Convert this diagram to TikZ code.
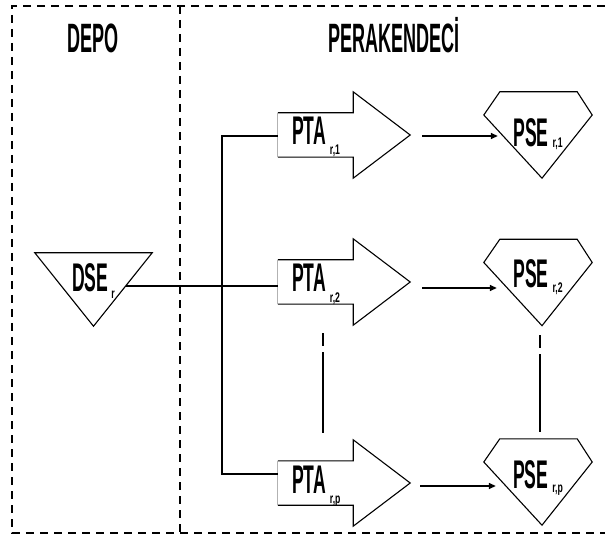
\documentclass[tikz,border=0pt]{standalone}
\usepackage{fontspec}
\usetikzlibrary{arrows.meta}
\newfontfamily\condfont[FakeStretch=0.44]{Liberation Sans}
\newfontfamily\subfont[FakeStretch=0.62]{Liberation Sans}
\newcommand\bigtxt{\condfont\bfseries\fontsize{40}{44}\selectfont}
\newcommand\titletxt{\condfont\bfseries\fontsize{41}{44}\selectfont}
\newcommand\subtxt{\subfont\bfseries\fontsize{14}{15}\selectfont}
% label of a transfer arrow: PTA with a lowered index
\newcommand\ptalabel[1]{\makebox[75pt][l]{\hspace{14pt}\bigtxt PTA\hspace{4pt}\raisebox{-10pt}{\subtxt #1}}}
\newcommand\pselabel[2]{{\bigtxt PSE}\hspace{4pt}\raisebox{#2}{\subtxt #1}}

\begin{document}
\begin{tikzpicture}[x=1pt,y=-1pt,
  frame/.style={line width=1.6pt, dash pattern=on 8pt off 6pt},
  outline/.style={line width=1.1pt},
  conn/.style={line width=1.5pt},
  flow/.style={line width=1.5pt, -{Triangle[length=7pt,width=6pt]}},
  gapline/.style={line width=1.5pt, dash pattern=on 13pt off 6pt on 300pt},
  ptabox/.style={rectangle, inner sep=0pt, minimum width=75pt, minimum height=44pt,
    text height=27pt, text depth=7pt},
  gem/.style={rectangle, inner sep=0pt, minimum width=108pt, minimum height=86pt},
  title/.style={inner sep=0pt, anchor=base, font=\titletxt}
]
\useasboundingbox (0,0) rectangle (605,537);

% dashed frame and divider
\draw[frame] (605,6) -- (12,6) -- (12,533) -- (605,533);
\draw[frame] (180,6) -- (180,533);

% headings
\node[title] (depo) at (93,53) {DEPO};
\node[title] (perakendeci) at (394,53) {PERAKENDECİ};

% warehouse stock point
\node[rectangle, inner sep=0pt, minimum width=117pt, minimum height=73pt,
      text height=28pt, text depth=23pt] (dse) at (93.5,289.5)
      {\bigtxt DSE\hspace{3pt}\raisebox{-7pt}{\subtxt r}};
\draw[outline] (dse.north west) -- (dse.north east) -- (dse.south) -- cycle;

% retailer transfer arrows
\node[ptabox] (pta1) at (315.5,135) {\ptalabel{r,1}};
\node[ptabox] (pta2) at (315.5,282) {\ptalabel{r,2}};
\node[ptabox] (ptap) at (315.5,483) {\ptalabel{r,p}};
\foreach \n in {pta1,pta2,ptap}{
  \draw[outline] (\n.north west) -- (\n.north east) -- ([yshift=21pt]\n.north east)
    -- ([xshift=57pt]\n.east) -- ([yshift=-21pt]\n.south east) -- (\n.south east)
    -- (\n.south west);
  \draw[gray!60, line width=0.8pt] (\n.north west) -- (\n.south west);
}

% retailer stock points
\node[gem, text height=29pt, text depth=5pt] (pse1) at (538,135) {\pselabel{r,1}{-1pt}};
\node[gem, text height=29pt, text depth=18pt] (pse2) at (538,282.5) {\pselabel{r,2}{-5pt}};
\node[gem, text height=29pt, text depth=16pt] (psep) at (538,482) {\pselabel{r,p}{-4pt}};
\foreach \n in {pse1,pse2,psep}{
  \draw[outline] ([xshift=16pt]\n.north west) -- ([xshift=-15pt]\n.north east)
    -- ([yshift=20pt]\n.east) -- ([xshift=4pt]\n.south) -- ([yshift=20pt]\n.west) -- cycle;
}

% distribution lines
\draw[conn] ([xshift=-26pt,yshift=3.5pt]dse.east) -- ([yshift=-4pt]pta2.west);
\draw[conn] ([yshift=-1pt]pta1.west) -| ([xshift=-56pt,yshift=9pt]ptap.west)
  -- ([yshift=9pt]ptap.west);

% flows into the stock points
\draw[flow] ([xshift=69pt,yshift=-1pt]pta1.east) -- ([xshift=14pt,yshift=-1pt]pse1.west);
\draw[flow] ([xshift=69pt,yshift=-6pt]pta2.east) -- ([xshift=13pt,yshift=-5.5pt]pse2.west);
\draw[flow] ([xshift=67pt,yshift=-3pt]ptap.east) -- ([xshift=12pt,yshift=-4pt]psep.west);

% continuation marks between the rows
\draw[gapline] ([xshift=7.5pt,yshift=-29pt]pta2.south) -- ([xshift=7.5pt,yshift=28pt]ptap.north);
\draw[gapline] ([xshift=2pt,yshift=-9.5pt]pse2.south) -- ([xshift=2pt,yshift=7pt]psep.north);
\end{tikzpicture}
\end{document}
